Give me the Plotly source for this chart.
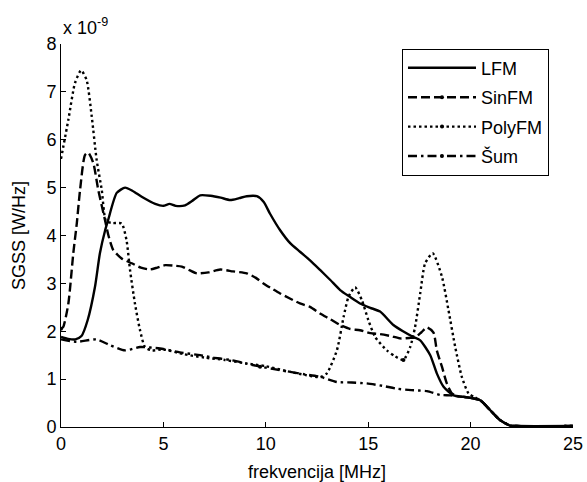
import plotly.graph_objects as go

# ---- data (values in units of 1e-9 W/Hz) ----
lfm_f = [0, 0.35, 0.7, 1.0, 1.3, 1.66, 1.9, 2.15, 2.3, 2.72,
         3.13, 3.5, 3.94, 4.6, 5.0, 5.3, 5.6, 6.06, 6.4, 6.8,
         7.3, 7.8, 8.26, 8.7, 9.07, 9.56, 9.9, 10.2, 10.7, 11.19,
         11.67, 12.16, 12.65, 13.15, 13.63, 14.1, 14.6, 15.1, 15.58, 16.23,
         16.7, 17.2, 17.54, 18.03, 18.35, 18.68, 19.17, 19.65, 20.1, 20.47,
         20.96, 21.45, 21.93, 22.3, 25]
lfm_v = [1.88, 1.84, 1.83, 1.9, 2.23, 2.93, 3.63, 4.1, 4.32, 4.89,
         5.0, 4.93, 4.81, 4.66, 4.62, 4.66, 4.62, 4.63, 4.72, 4.84,
         4.83, 4.79, 4.74, 4.78, 4.82, 4.82, 4.7, 4.46, 4.11, 3.84,
         3.66, 3.48, 3.28, 3.07, 2.86, 2.72, 2.58, 2.49, 2.41, 2.13,
         2.0, 1.88, 1.81, 1.5, 1.12, 0.84, 0.66, 0.63, 0.6, 0.56,
         0.35, 0.14, 0.03, 0.02, 0.02]

sin_f = [0, 0.11, 0.36, 0.6, 0.77, 0.93, 1.17, 1.33, 1.58, 1.82,
         2.15, 2.31, 2.55, 2.96, 3.45, 3.9, 4.35, 4.7, 5.08, 5.5,
         5.9, 6.3, 6.63, 7.2, 7.77, 8.4, 9.07, 9.5, 9.88, 10.3,
         10.7, 11.2, 11.67, 12.16, 12.65, 13.15, 13.63, 14.1, 14.6, 15.1,
         15.58, 16.1, 16.56, 17.0, 17.29, 17.6, 17.87, 18.19, 18.35, 18.6,
         18.84, 19.09, 19.4, 19.65, 20.1, 20.47, 20.96, 21.45, 21.93, 22.3,
         25]
sin_v = [2.05, 2.09, 2.58, 3.63, 4.25, 4.95, 5.68, 5.73, 5.51, 4.95,
         4.32, 4.01, 3.7, 3.52, 3.42, 3.33, 3.29, 3.33, 3.38, 3.37,
         3.35, 3.27, 3.21, 3.23, 3.29, 3.25, 3.21, 3.12, 3.0, 2.89,
         2.79, 2.68, 2.58, 2.51, 2.37, 2.25, 2.13, 2.05, 2.02, 1.96,
         1.94, 1.9, 1.85, 1.86, 1.87, 1.98, 2.08, 1.97, 1.6, 1.26,
         0.91, 0.70, 0.64, 0.63, 0.6, 0.56, 0.35, 0.14, 0.03, 0.02,
         0.02]

poly_f = [0, 0.36, 0.68, 0.98, 1.25, 1.5, 1.74, 1.99, 2.2, 2.5,
          2.96, 3.2, 3.37, 3.61, 3.86, 4.1, 4.43, 5.0, 6.0, 7.0,
          8.0, 9.0, 10.0, 11.0, 12.0, 12.65, 12.98, 13.47, 13.8, 14.04,
          14.36, 14.69, 15.01, 15.34, 15.91, 16.3, 16.72, 17.05, 17.29, 17.54,
          17.78, 18.15, 18.6, 18.92, 19.25, 19.57, 19.9, 20.2, 20.47, 20.96,
          21.45, 21.93, 22.3, 25]
poly_v = [5.6, 6.42, 7.18, 7.45, 7.25, 6.49, 5.58, 4.95, 4.3, 4.26,
          4.25, 3.9, 3.28, 2.58, 2.02, 1.67, 1.6, 1.62, 1.52, 1.45,
          1.4, 1.33, 1.27, 1.17, 1.08, 1.04, 1.12, 1.6, 2.3, 2.72,
          2.92, 2.65, 2.23, 1.88, 1.6, 1.48, 1.4, 1.67, 2.09, 2.79,
          3.42, 3.63, 3.14, 2.44, 1.67, 1.05, 0.70, 0.62, 0.56, 0.35,
          0.14, 0.03, 0.02, 0.02]

sum_f = [0, 0.77, 1.74, 2.39, 3.13, 3.86, 4.84, 5.8, 6.79, 7.43,
         8.26, 9.0, 9.72, 10.4, 11.19, 11.9, 12.65, 13.47, 14.2, 14.93,
         15.7, 16.4, 17.1, 17.87, 18.52, 19.0, 19.4, 19.65, 20.1, 20.47,
         20.96, 21.45, 21.93, 22.3, 25]
sum_v = [1.83, 1.78, 1.83, 1.71, 1.6, 1.67, 1.64, 1.56, 1.5, 1.45,
         1.4, 1.33, 1.26, 1.21, 1.15, 1.1, 1.05, 0.94, 0.93, 0.91,
         0.86, 0.80, 0.77, 0.75, 0.67, 0.66, 0.64, 0.63, 0.6, 0.56,
         0.35, 0.14, 0.03, 0.02, 0.02]

series_names = ["LFM", "SinFM", "PolyFM", "Šum"]
x_ticks = [0, 5, 10, 15, 20, 25]
y_ticks = [0, 1, 2, 3, 4, 5, 6, 7, 8]

FONT = "Liberation Sans, Arial, Helvetica, sans-serif"

fig = go.Figure()
specs = [
    (lfm_f, lfm_v, "solid", "lines"),
    (sin_f, sin_v, "9px,4px", "lines+markers"),
    (poly_f, poly_v, "2.5px,3px", "lines+markers"),
    (sum_f, sum_v, "9px,4px,2.5px,4px", "lines+markers"),
]
for (fx, fv, dash, mode), name in zip(specs, series_names):
    fig.add_trace(go.Scatter(
        x=fx, y=fv, name=name, mode=mode, legendgroup=name,
        line=dict(color="black", width=2.4, dash=dash, shape="spline", smoothing=0.6),
        marker=dict(size=4, color="black", maxdisplayed=1),
    ))

fig.update_layout(
    width=587, height=482,
    margin=dict(l=61, r=14, t=44, b=55),
    paper_bgcolor="white", plot_bgcolor="white",
    font=dict(family=FONT, size=18, color="black"),
    showlegend=True,
    legend=dict(
        x=0.666, y=0.988, xanchor="left", yanchor="top",
        bgcolor="white", bordercolor="black", borderwidth=1,
        font=dict(family=FONT, size=18, color="black"),
        itemwidth=68, tracegroupgap=3,
    ),
    xaxis=dict(
        range=[0, 25], tickvals=x_ticks, ticktext=[str(t) for t in x_ticks],
        ticks="inside", ticklen=5, tickcolor="black", showgrid=False, zeroline=False,
        showline=True, linecolor="black", linewidth=1, mirror=False, automargin=False,
        title=dict(text="frekvencija [MHz]", standoff=12, font=dict(size=18)),
        tickfont=dict(size=18),
    ),
    yaxis=dict(
        range=[0, 8], tickvals=y_ticks, ticktext=[str(t) for t in y_ticks],
        ticks="inside", ticklen=5, tickcolor="black", showgrid=False, zeroline=False,
        showline=True, linecolor="black", linewidth=1, mirror=False, automargin=False,
        title=dict(text="SGSS [W/Hz]", standoff=16, font=dict(size=18)),
        tickfont=dict(size=18),
    ),
    annotations=[dict(
        x=0, y=1.01, xref="paper", yref="paper", xanchor="left", yanchor="bottom",
        text="x 10<sup>-9</sup>", showarrow=False, font=dict(family=FONT, size=18, color="black"),
    )],
)

fig.write_html(
    "out.html",
    config={"displayModeBar": False},
    post_script="document.body.style.margin='0px';document.body.style.padding='0px';",
)
